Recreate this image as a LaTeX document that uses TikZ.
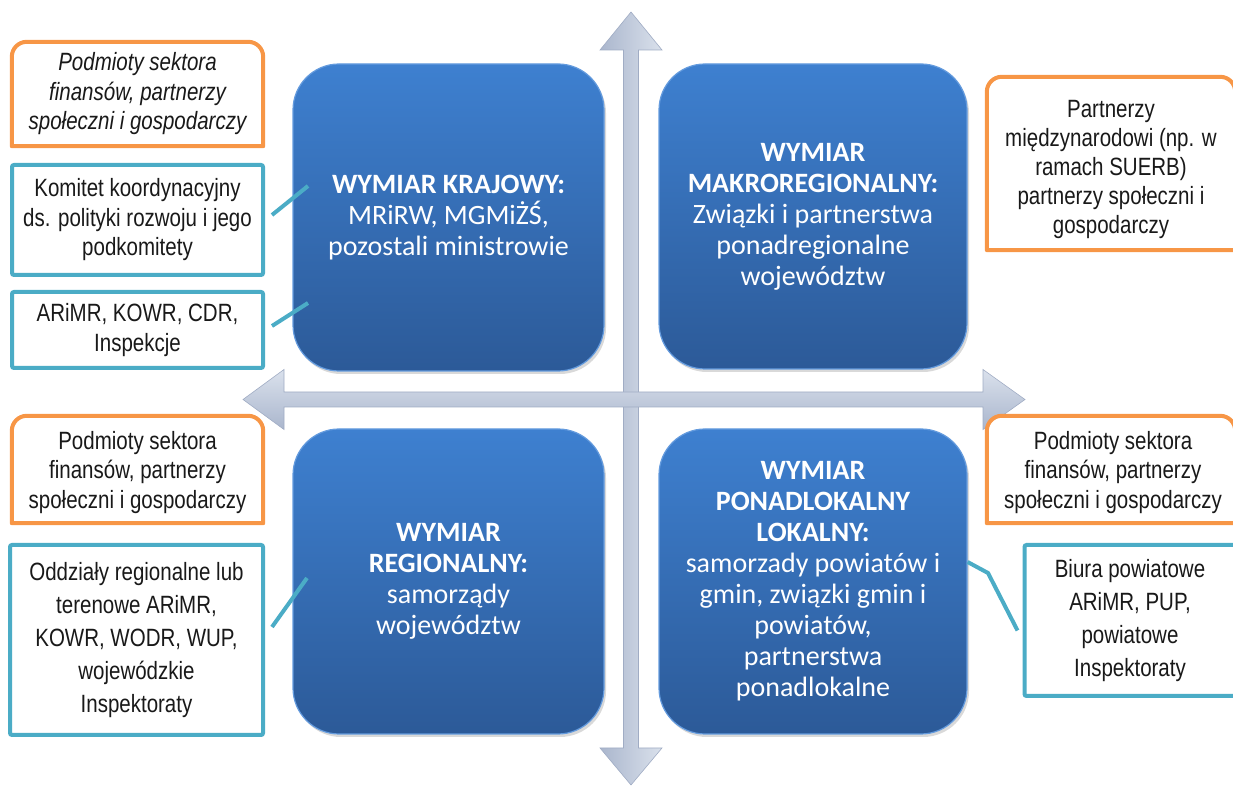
\documentclass[tikz,border=0pt]{standalone}
\usepackage{fontspec}
\setmainfont{Liberation Sans}
\newfontfamily\narrowfont{Liberation Sans}[FakeStretch=0.82]
\newfontfamily\calibrifont{Carlito}
\usetikzlibrary{shadows}
\definecolor{orangeline}{RGB}{247,150,70}
\definecolor{tealline}{RGB}{75,172,198}
\definecolor{bluetop}{RGB}{62,128,208}
\definecolor{bluebot}{RGB}{44,90,152}
\definecolor{blueedge}{RGB}{100,155,222}
\definecolor{arrowlight}{RGB}{218,225,236}
\definecolor{arrowdark}{RGB}{170,182,205}
\definecolor{arrowmid}{RGB}{194,203,220}
\definecolor{arrowedge}{RGB}{160,172,196}
\definecolor{txt}{RGB}{25,25,25}
\newcommand\drawobox[1]{%
  \draw[oline] (#1.south west) -- ([yshift=-15pt]#1.north west)
    arc[start angle=180,end angle=90,radius=15pt]
    -- ([xshift=-15pt]#1.north east)
    arc[start angle=90,end angle=0,radius=15pt]
    -- (#1.south east) -- cycle;}
\begin{document}
\begin{tikzpicture}[x=1pt,y=1pt,
  bluebox/.style={rounded corners=46pt, top color=bluetop, bottom color=bluebot,
    draw=blueedge, line width=1.2pt, text=white, align=center,
    font=\calibrifont\fontsize{28}{31}\selectfont,
    drop shadow={shadow xshift=2pt, shadow yshift=-3pt, opacity=0.3}},
  tealbox/.style={draw=tealline, line width=4pt, fill=white, rounded corners=2pt,
    align=center, text=txt, inner sep=0pt},
  orangebox/.style={align=center, text=txt, inner sep=0pt},
  oline/.style={draw=orangeline, line width=4pt, line join=round, fill=white},
  conn/.style={draw=tealline, line width=4pt},
  arrowshape/.style={draw=arrowedge, line width=0.6pt, line join=miter},
  nf/.style={font=\narrowfont\fontsize{25}{#1}\selectfont},
]
\useasboundingbox (0,0) rectangle (1233,786);
\clip (0,0) rectangle (1233,786);

% cross arrows
\path[arrowshape, left color=arrowdark, right color=arrowlight]
  (631,774) -- (662,736) -- (638.5,736) -- (638.5,38) -- (662,38) -- (631,1)
  -- (600,38) -- (623.5,38) -- (623.5,736) -- (600,736) -- cycle;
\path[arrowshape, top color=arrowlight, bottom color=arrowdark]
  (243,386.5) -- (284,416.5) -- (284,394) -- (983,394) -- (983,416.5) -- (1025,386.5)
  -- (983,356.5) -- (983,379) -- (284,379) -- (284,356.5) -- cycle;

% blue boxes
\node[bluebox, minimum width=311pt, minimum height=307pt] (bTL) at (448.5,568.5)
  {{\bfseries WYMIAR KRAJOWY:}\\MRiRW, MGMiŻŚ,\\pozostali ministrowie};
\node[bluebox, minimum width=308pt, minimum height=305pt] (bTR) at (813,569.5)
  {{\bfseries WYMIAR}\\{\bfseries MAKROREGIONALNY:}\\Związki i partnerstwa\\ponadregionalne\\województw};
\node[bluebox, minimum width=311pt, minimum height=305pt] (bBL) at (448.5,204.5)
  {{\bfseries WYMIAR}\\{\bfseries REGIONALNY:}\\samorządy\\województw};
\node[bluebox, minimum width=308pt, minimum height=305pt] (bBR) at (813,204.5)
  {{\bfseries WYMIAR}\\{\bfseries PONADLOKALNY}\\{\bfseries LOKALNY:}\\samorzady powiatów i\\gmin, związki gmin i\\powiatów,\\partnerstwa\\ponadlokalne};

% orange boxes
\node[orangebox, minimum width=251pt, minimum height=104pt] (oTL) at (137.5,692) {};
\drawobox{oTL}
\node[orangebox, nf=29.5] at (oTL) {\itshape Podmioty sektora\\\itshape finansów, partnerzy\\\itshape społeczni i gospodarczy};

\node[orangebox, minimum width=248pt, minimum height=173pt] (oTR) at (1111,622.5) {};
\drawobox{oTR}
\node[orangebox, nf=29.2] at ([yshift=-6pt]oTR.center) {Partnerzy\\międzynarodowi (np. w\\ramach SUERB)\\partnerzy społeczni i\\gospodarczy};

\node[orangebox, minimum width=251pt, minimum height=107pt] (oBL) at (137.5,316.5) {};
\drawobox{oBL}
\node[orangebox, nf=29.5] at ([yshift=-3pt]oBL.center) {Podmioty sektora\\finansów, partnerzy\\społeczni i gospodarczy};

\node[orangebox, minimum width=248pt, minimum height=107pt] (oBR) at (1111,316.5) {};
\drawobox{oBR}
\node[orangebox, nf=29.5] at ([xshift=2pt,yshift=-3pt]oBR.center) {Podmioty sektora\\finansów, partnerzy\\społeczni i gospodarczy};

% teal boxes
\node[tealbox, nf=29.5, minimum width=251pt, minimum height=110pt] (t1) at (137.5,566)
  {Komitet koordynacyjny\\ds. polityki rozwoju i jego\\podkomitety};
\node[tealbox, nf=30, minimum width=251pt, minimum height=76pt] (t2) at (137.5,456)
  {ARiMR, KOWR, CDR,\\Inspekcje};
\node[tealbox, nf=33, minimum width=253pt, minimum height=190pt] (tBL) at (136.5,146)
  {Oddziały regionalne lub\\terenowe ARiMR,\\KOWR, WODR, WUP,\\wojewódzkie\\Inspektoraty};
\node[tealbox, nf=33, minimum width=211pt, minimum height=151pt] (tBR) at (1130,165.5)
  {Biura powiatowe\\ARiMR, PUP,\\powiatowe\\Inspektoraty};

% connectors
\coordinate (k1) at (308,600);
\coordinate (k2) at (308,483);
\coordinate (k3) at (307,208);
\coordinate (k4) at (988,213);
\draw[conn] ([shift={(7,5)}]t1.east) -- (k1);
\draw[conn] ([shift={(7,4)}]t2.east) -- (k2);
\draw[conn] ([shift={(7,13)}]tBL.east) -- (k3);
\draw[conn] ([shift={(0,19.5)}]bBR.east) -- (k4) -- ([shift={(-5,-10)}]tBR.west);
\end{tikzpicture}
\end{document}
